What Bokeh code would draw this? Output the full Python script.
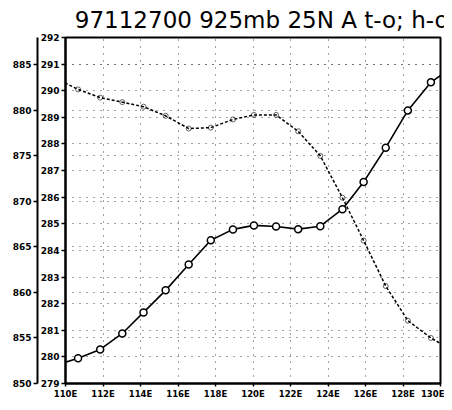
from bokeh.plotting import figure
from bokeh.models import Range1d, LinearAxis, FixedTicker, Grid
from bokeh.embed import file_html
from bokeh.resources import INLINE

# ---- data ----
lon = [109.49, 110.67, 111.85, 113.03, 114.16, 115.34, 116.57, 117.75, 118.93,
       120.05, 121.23, 122.41, 123.59, 124.77, 125.90, 127.08, 128.26, 129.49, 130.67]
t_vals = [279.69, 279.95, 280.28, 280.88, 281.67, 282.50, 283.47, 284.38, 284.79,
          284.94, 284.90, 284.80, 284.91, 285.55, 286.57, 287.86, 289.26, 290.32, 290.90]
h_vals = [883.5, 882.3, 881.4, 880.9, 880.4, 879.4, 878.0, 878.1, 879.0,
          879.5, 879.5, 877.7, 875.0, 870.4, 865.7, 860.7, 856.9, 855.0, 853.6]
x_ticks = [110, 112, 114, 116, 118, 120, 122, 124, 126, 128, 130]
x_tick_labels = ["110E", "112E", "114E", "116E", "118E", "120E", "122E", "124E", "126E", "128E", "130E"]
t_ticks = list(range(279, 293))
h_ticks = [850, 855, 860, 865, 870, 875, 880, 885]
title_text = "97112700 925mb 25N A t-o; h-o"

p = figure(width=444, height=401, output_backend="svg", toolbar_location=None,
           x_range=Range1d(110, 130), y_range=Range1d(279, 292),
           min_border_left=0, min_border_right=4, min_border_top=0, min_border_bottom=0)
p.extra_y_ranges = {"h": Range1d(850, 888)}

p.title.text = title_text
p.title.align = "right"
p.title.offset = -8
p.title.text_font = "DejaVu Sans"
p.title.text_font_style = "normal"
p.title.text_font_size = "23px"
p.title.text_color = "black"
p.title.standoff = 9

p.outline_line_color = "black"
p.outline_line_width = 2
p.background_fill_color = "white"
p.border_fill_color = "white"

label_font = "DejaVu Sans"

def style_axis(ax, size="9px"):
    ax.minor_tick_line_color = None
    ax.major_tick_out = 4
    ax.major_tick_in = 0
    ax.axis_line_width = 2
    ax.axis_line_color = "black"
    ax.major_tick_line_color = "black"
    ax.major_tick_line_width = 1.5
    ax.major_label_text_color = "black"
    ax.major_label_text_font = label_font
    ax.major_label_text_font_style = "bold"
    ax.major_label_text_font_size = size
    ax.major_label_standoff = 2

# x axis
p.xaxis.ticker = FixedTicker(ticks=x_ticks)
p.xaxis.major_label_overrides = {tk: lb for tk, lb in zip(x_ticks, x_tick_labels)}
style_axis(p.xaxis[0], "8.5px")
p.xaxis.major_tick_out = 3

# inner t axis
p.yaxis.ticker = FixedTicker(ticks=t_ticks)
style_axis(p.yaxis[0])

# outer h axis
h_axis = LinearAxis(y_range_name="h", ticker=FixedTicker(ticks=h_ticks))
style_axis(h_axis)
h_axis.axis_label = " "
h_axis.axis_label_text_font_size = "2px"
h_axis.axis_label_standoff = 4
p.add_layout(h_axis, "left")

# grids
dash = "1 6"
p.xgrid.grid_line_color = "#444444"
p.xgrid.grid_line_dash = dash
p.xgrid.grid_line_width = 1
p.ygrid.grid_line_color = "#444444"
p.ygrid.grid_line_dash = dash
p.ygrid.grid_line_width = 1
hgrid = Grid(dimension=1, ticker=h_axis.ticker, y_range_name="h",
             grid_line_color="#444444", grid_line_dash=dash, grid_line_width=1)
p.add_layout(hgrid)

# t line (solid with open circles)
p.line(lon, t_vals, line_color="black", line_width=1.6)
p.scatter(lon, t_vals, marker="circle", size=7, line_color="black", line_width=1.5,
          fill_color="white")

# h line (dashed with small circles)
p.line(lon, h_vals, line_color="black", line_width=1.5, line_dash="3 2",
       y_range_name="h")
p.scatter(lon, h_vals, marker="circle", size=5, line_color="black", line_width=1,
          fill_color="white", fill_alpha=0.0, line_alpha=0.6, y_range_name="h")

open("out.html", "w").write(file_html(p, INLINE))
